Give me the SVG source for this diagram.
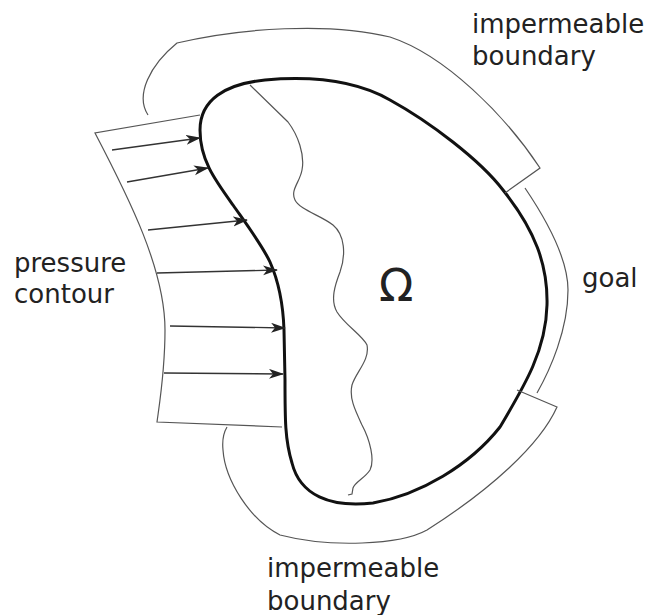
<svg xmlns="http://www.w3.org/2000/svg" width="657" height="615" viewBox="0 0 657 615">
<defs>
<style>
.thin{fill:none;stroke:#555;stroke-width:1.2;stroke-linejoin:miter}
.thick{fill:none;stroke:#111;stroke-width:3}
.arr{fill:none;stroke:#333;stroke-width:1.3}
.lbl{font-family:"DejaVu Sans",Verdana,sans-serif;font-size:26px;fill:#222}
</style>
<marker id="ah" markerUnits="userSpaceOnUse" markerWidth="16" markerHeight="12" refX="14" refY="5" orient="auto">
<path d="M0,0 L15,5 L0,10 L4,5 Z" fill="#222"/>
</marker>
</defs>
<rect width="657" height="615" fill="#fff"/>
<g id="domain">
<path class="thick" d="M 200,130 C 200,100 225,84 265,80 C 310,76 355,80 390,100 C 430,122 480,160 503,190 C 535,230 548,265 547,305 C 546,350 525,385 500,427 C 470,465 420,495 373,503 C 330,508 300,495 292,463 C 285,440 285,420 285,380 L 284,330 C 283,300 278,280 270,262 C 262,245 247,225 233,205 C 215,180 200,160 200,130 Z"/>
<path class="thin" d="M 250,85 L 288,122 C 298,135 305,155 302,170 C 300,182 290,190 295,200 C 300,210 320,215 333,225 C 345,235 346,255 340,272 C 335,285 330,300 337,312 C 345,325 362,335 367,345 C 370,360 356,372 352,385 C 349,398 355,410 362,425 C 370,440 375,460 370,470 C 365,478 355,482 353,488 L 352,494 L 348,495"/>
<text class="lbl" x="379" y="301" style="font-size:45px">Ω</text>
</g>
<g id="pressure-contour">
<path class="thin" d="M 200,115 L 95,133 C 130,200 165,270 165,330 C 165,370 160,400 157,422 L 282,427"/>
<text class="lbl" x="14" y="272">pressure</text>
<text class="lbl" x="14" y="303">contour</text>
</g>
<g id="impermeable-top">
<path class="thin" d="M 148,115 C 135,95 150,65 177,43 C 240,28 330,22 390,37 C 445,55 505,115 540,168 L 505,193"/>
<text class="lbl" x="472" y="33">impermeable</text>
<text class="lbl" x="472" y="65">boundary</text>
</g>
<g id="goal">
<path class="thin" d="M 525,188 C 550,225 568,260 568,290 C 568,330 550,370 537,393"/>
<text class="lbl" x="582" y="287">goal</text>
</g>
<g id="impermeable-bottom">
<path class="thin" d="M 517,390 L 557,407 C 540,445 490,490 427,530 C 400,545 330,548 280,535 C 250,520 225,480 223,450 C 222,440 224,432 227,427"/>
<text class="lbl" x="267" y="577">impermeable</text>
<text class="lbl" x="267" y="610">boundary</text>
</g>
<g id="connectors">
<line class="arr" x1="112" y1="150" x2="200" y2="138" marker-end="url(#ah)"/>
<line class="arr" x1="127" y1="182" x2="208" y2="168" marker-end="url(#ah)"/>
<line class="arr" x1="148" y1="230" x2="247" y2="220" marker-end="url(#ah)"/>
<line class="arr" x1="157" y1="273" x2="277" y2="270" marker-end="url(#ah)"/>
<line class="arr" x1="170" y1="326" x2="285" y2="328" marker-end="url(#ah)"/>
<line class="arr" x1="164" y1="373" x2="283" y2="374" marker-end="url(#ah)"/>
</g>
</svg>
